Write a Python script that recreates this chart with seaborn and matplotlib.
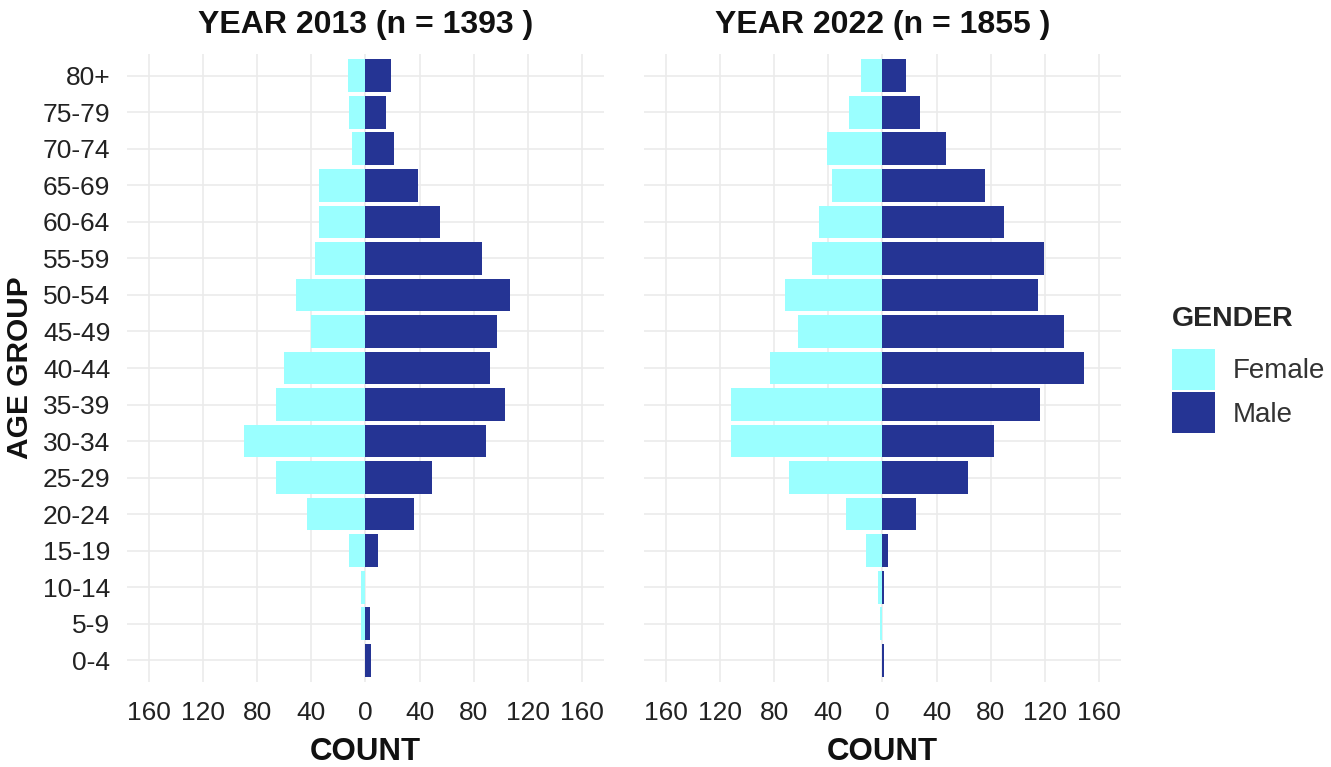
import pandas as pd
import seaborn as sns
import matplotlib.pyplot as plt

ages = ['80+', '75-79', '70-74', '65-69', '60-64', '55-59', '50-54', '45-49',
        '40-44', '35-39', '30-34', '25-29', '20-24', '15-19', '10-14', '5-9', '0-4']
female_2013 = [13, 12, 10, 34, 34, 37, 51, 40, 60, 66, 90, 66, 43, 12, 3, 3, 0]
male_2013 = [19, 15, 21, 39, 55, 86, 107, 97, 92, 103, 89, 49, 36, 9, 0, 3, 4]
female_2022 = [16, 25, 41, 37, 47, 52, 72, 62, 83, 112, 112, 69, 27, 12, 3, 2, 0]
male_2022 = [17, 28, 47, 76, 90, 119, 115, 134, 149, 116, 82, 63, 25, 4, 1, 0, 1]
years = ['2013', '2022']
n_total = {'2013': 1393, '2022': 1855}
genders = ['Female', 'Male']
colors = {'Female': '#9AFFFF', 'Male': '#253494'}
ticks = [-160, -120, -80, -40, 0, 40, 80, 120, 160]

# long table, females to the left of zero
rows = []
for year, fem, mal in [('2013', female_2013, male_2013), ('2022', female_2022, male_2022)]:
    for age, f, m in zip(ages, fem, mal):
        rows.append({'year': year, 'age': age, 'gender': 'Female', 'count': -f})
        rows.append({'year': year, 'age': age, 'gender': 'Male', 'count': m})
pyramid = pd.DataFrame(rows)

sns.set_theme(style='white')
plt.rcParams['font.family'] = ['Liberation Sans', 'DejaVu Sans']

fig, axes = plt.subplots(1, 2, figsize=(13.31, 7.67), dpi=100, sharey=True)
fig.subplots_adjust(left=0.0954, right=0.8422, top=0.9296, bottom=0.1108, wspace=0.0839)

for ax, year in zip(axes, years):
    sns.barplot(data=pyramid[pyramid['year'] == year], x='count', y='age',
                hue='gender', order=ages, hue_order=genders, palette=colors,
                dodge=False, width=0.9, orient='h', saturation=1,
                linewidth=0, ax=ax)
    ax.set_axisbelow(True)
    ax.grid(True, color='#EBEBEB', linewidth=1.2)
    ax.set_xlim(-176, 176)
    ax.set_ylim(len(ages) - 0.4, -0.6)
    ax.set_xticks(ticks)
    ax.set_xticklabels([str(abs(t)) for t in ticks])
    ax.tick_params(axis='both', length=0, labelsize=19, colors='#222222')
    ax.tick_params(axis='x', pad=14)
    ax.tick_params(axis='y', pad=12)
    for s in ax.spines.values():
        s.set_visible(False)
    ax.set_title(f'YEAR {year} (n = {n_total[year]} )', fontsize=23,
                 fontweight='bold', pad=15, color='#111111')
    ax.set_xlabel('COUNT', fontsize=22.5, fontweight='bold', color='#111111', labelpad=8)
    ax.set_ylabel('')
    handles, labels = ax.get_legend_handles_labels()
    ax.get_legend().remove()

axes[0].set_ylabel('AGE GROUP', fontsize=21.5, fontweight='bold', color='#111111', labelpad=6)

leg = fig.legend(handles, labels, title='GENDER', loc='center left',
                 bbox_to_anchor=(0.870, 0.518), frameon=False, fontsize=20,
                 title_fontproperties={'weight': 'bold', 'size': 20.5},
                 handlelength=1.56, handleheight=1.88, handletextpad=0.62,
                 labelspacing=0.1, borderpad=0, alignment='left')
leg._legend_box.sep = 12  # gap between title and keys
for t in leg.get_texts():
    t.set_color('#333333')

fig.savefig('out.png', dpi=100)
